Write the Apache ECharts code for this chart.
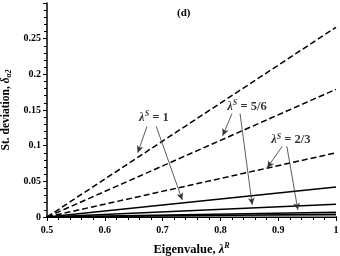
<!DOCTYPE html>
<html><head><meta charset="utf-8">
<script src="https://cdn.jsdelivr.net/npm/echarts@6/dist/echarts.min.js"></script>
<style>html,body{margin:0;padding:0;background:#fff}#c{width:340px;height:256px}</style>
</head><body><div id="c"></div>
<script>
const xValues = [0.5, 1];
const dashedS1 = [0, 0.266];
const dashedS56 = [0, 0.179];
const dashedS23 = [0, 0.090];
const solidS1 = [0, 0.042];
const solidS56 = [0, 0.018];
const solidS23 = [0, 0.0065];
const nearZero = [0, 0.004];
const labelNames = ['1', '5/6', '2/3'];
const labelPos = [[0.685, 0.139], [0.846, 0.155], [0.922, 0.108]];
const arrows = [
  [[0.673, 0.127], [0.657, 0.090]],
  [[0.689, 0.127], [0.734, 0.024]],
  [[0.820, 0.145], [0.804, 0.114]],
  [[0.834, 0.145], [0.855, 0.017]],
  [[0.907, 0.099], [0.881, 0.069]],
  [[0.915, 0.099], [0.934, 0.010]]
];

const font = 'Liberation Serif';
const pts = v => xValues.map((x, i) => [x, v[i]]);
const mk = (v, dashed, extra) => Object.assign({
  type: 'line', data: pts(v), symbol: 'none', silent: true,
  lineStyle: { color: '#000', width: 1.5, type: dashed ? [6, 3] : 'solid' }
}, extra || {});

const chart = echarts.init(document.getElementById('c'), null, { renderer: 'canvas' });
chart.setOption({
  animation: false,
  grid: { left: 47, right: 4, top: 3, bottom: 39, containLabel: false, outerBoundsMode: 'none' },
  title: { text: '(d)', left: 172, top: 3, textStyle: { fontFamily: font, fontWeight: 'bold', fontSize: 11, color: '#000' } },
  xAxis: {
    type: 'value', min: 0.5, max: 1, interval: 0.1,
    name: 'Eigenvalue, {i|λ}{sup|R}', nameLocation: 'middle', nameGap: 25,
    nameTextStyle: { fontFamily: font, fontWeight: 'bold', fontSize: 12.5, color: '#000',
      rich: { i: { fontFamily: font, fontStyle: 'italic', fontWeight: 'bold', fontSize: 12.5 },
              sup: { fontFamily: font, fontStyle: 'italic', fontSize: 8, verticalAlign: 'bottom', padding: [0, 0, 7, 0] } } },
    axisLine: { lineStyle: { color: '#000', width: 2 } },
    axisTick: { length: 4, lineStyle: { color: '#000', width: 1 } },
    minorTick: { show: true, splitNumber: 5, length: 3, lineStyle: { color: '#000', width: 1 } },
    splitLine: { show: false },
    axisLabel: { fontFamily: font, fontWeight: 'bold', fontSize: 10, color: '#000', margin: 8,
      formatter: v => String(+v.toFixed(2)) }
  },
  yAxis: {
    type: 'value', min: 0, max: 0.3, interval: 0.05,
    name: 'St. deviation, {i|δ}{sub|α2}', nameLocation: 'middle', nameGap: 32, nameRotate: 90,
    nameTextStyle: { fontFamily: font, fontWeight: 'bold', fontSize: 11.5, color: '#000',
      rich: { i: { fontFamily: font, fontStyle: 'italic', fontWeight: 'bold', fontSize: 11.5 },
              sub: { fontFamily: font, fontStyle: 'italic', fontWeight: 'bold', fontSize: 7.5, verticalAlign: 'top', padding: [6, 0, 0, 0] } } },
    axisLine: { show: true, lineStyle: { color: '#000', width: 1.5 } },
    axisTick: { length: 4, lineStyle: { color: '#000', width: 1 } },
    minorTick: { show: true, splitNumber: 5, length: 3, lineStyle: { color: '#000', width: 1 } },
    splitLine: { show: false },
    axisLabel: { fontFamily: font, fontWeight: 'bold', fontSize: 10, color: '#000', margin: 6,
      formatter: v => (Math.abs(v - 0.3) < 1e-9 ? '' : String(+v.toFixed(2))) }
  },
  series: [
    mk(dashedS1, true), mk(dashedS56, true), mk(dashedS23, true),
    mk(solidS1, false), mk(solidS56, false), mk(solidS23, false),
    mk(nearZero, false, { lineStyle: { color: '#000', width: 1.5 }, areaStyle: { color: '#8a8a8a', opacity: 1 } }),
    {
      type: 'scatter', symbolSize: 0, silent: true,
      data: labelPos.map((p, i) => ({ value: p, name: labelNames[i] })),
      label: {
        show: true, position: 'inside',
        formatter: p => '{i|λ}{sup|S}{t| = ' + p.name + '}',
        rich: {
          i: { fontFamily: font, fontStyle: 'italic', fontWeight: 'bold', fontSize: 12.5, color: '#000' },
          sup: { fontFamily: font, fontStyle: 'italic', fontWeight: 'bold', fontSize: 8, color: '#000', verticalAlign: 'bottom', padding: [0, 0, 7, 0] },
          t: { fontFamily: font, fontWeight: 'bold', fontSize: 12.5, color: '#000' }
        }
      },
      markLine: {
        silent: true, symbol: ['none', 'arrow'], symbolSize: [5, 7],
        label: { show: false },
        lineStyle: { color: '#333', width: 0.8, type: 'solid' },
        data: arrows.map(a => [{ coord: a[0] }, { coord: a[1] }])
      }
    }
  ]
});
</script></body></html>
